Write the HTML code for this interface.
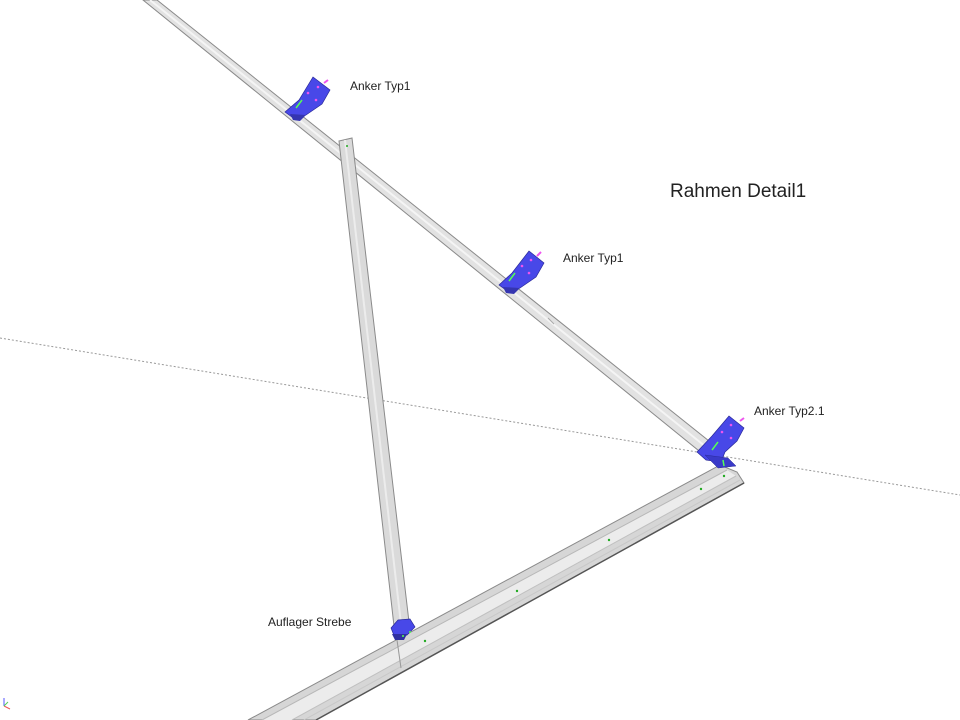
<!DOCTYPE html>
<html><head><meta charset="utf-8"><style>
html,body{margin:0;padding:0;background:#fff;width:960px;height:720px;overflow:hidden}
svg{display:block}
text{font-family:"Liberation Sans",sans-serif;fill:#222}
</style></head><body>
<svg width="960" height="720" viewBox="0 0 960 720">
<line x1="0" y1="338" x2="960" y2="495" stroke="#999" stroke-width="1" stroke-dasharray="2,2"/>
<!-- top diagonal beam -->
<polygon points="143,0 157,0 724,453 709,459" fill="#e2e2e2" stroke="#8a8a8a" stroke-width="1"/>
<line x1="150" y1="0" x2="716" y2="455" stroke="#f4f4f4" stroke-width="2"/>
<line x1="548" y1="318" x2="554" y2="324" stroke="#aaa"/>
<!-- vertical strut -->
<polygon points="339,141 352,138 409,622 394,626" fill="#dadada" stroke="#8a8a8a" stroke-width="1"/>
<line x1="345" y1="140" x2="401" y2="624" stroke="#ececec" stroke-width="2"/>
<circle cx="347" cy="146" r="1" fill="#2a2"/>
<!-- bottom beam -->
<polygon points="248,720 316,720 744,483 737,472 720,465" fill="#d6d6d6" stroke="#8a8a8a" stroke-width="1"/>
<polygon points="262,720 292,720 736,476 727,470" fill="#ececec" stroke="none"/>
<line x1="262" y1="720" x2="727" y2="470" stroke="#b8b8b8"/>
<line x1="292" y1="720" x2="736" y2="476" stroke="#c0c0c0"/>
<line x1="304" y1="720" x2="740" y2="480" stroke="#c8c8c8"/>
<line x1="316" y1="720" x2="744" y2="483" stroke="#555" stroke-width="1.5"/>
<line x1="397" y1="640" x2="401" y2="668" stroke="#999"/>
<circle cx="425" cy="641" r="1.2" fill="#2a2"/>
<circle cx="517" cy="591" r="1.2" fill="#2a2"/>
<circle cx="609" cy="540" r="1.2" fill="#2a2"/>
<circle cx="701" cy="489" r="1.2" fill="#2a2"/>
<circle cx="724" cy="476" r="1.2" fill="#2a2"/>
<!-- anchor 1 -->
<g>
<polygon points="313,77 330,90 322,104 306,115 296,120 285,112 299,100" fill="#4848e8" stroke="#2a2a9a" stroke-width="0.7"/>
<polygon points="290,114 306,115 300,121 293,120" fill="#3535b0"/>
<line x1="296" y1="108" x2="302" y2="100" stroke="#5f5" stroke-width="1.5"/>
<line x1="324" y1="83" x2="328" y2="80" stroke="#e5e" stroke-width="2"/>
<circle cx="318" cy="87" r="1.3" fill="#e5e"/><circle cx="316" cy="100" r="1.3" fill="#e5e"/><circle cx="308" cy="93" r="1.3" fill="#e5e"/>
</g>
<!-- anchor 2 -->
<g>
<polygon points="529,251 544,263 536,277 520,288 510,293 499,285 512,273" fill="#4848e8" stroke="#2a2a9a" stroke-width="0.7"/>
<polygon points="503,287 520,288 514,294 506,293" fill="#3535b0"/>
<line x1="509" y1="281" x2="515" y2="273" stroke="#5f5" stroke-width="1.5"/>
<line x1="537" y1="256" x2="541" y2="252" stroke="#e5e" stroke-width="2"/>
<circle cx="531" cy="260" r="1.3" fill="#e5e"/><circle cx="529" cy="273" r="1.3" fill="#e5e"/><circle cx="522" cy="266" r="1.3" fill="#e5e"/>
</g>
<!-- anchor 3 -->
<g>
<polygon points="729,416 744,428 737,441 725,452 721,462 706,460 697,452 712,436" fill="#4848e8" stroke="#2a2a9a" stroke-width="0.7"/>
<polygon points="705,455 728,458 736,466 718,468" fill="#3a3ac8" stroke="#2a2a9a" stroke-width="0.5"/>
<line x1="712" y1="450" x2="718" y2="442" stroke="#5f5" stroke-width="1.5"/>
<line x1="723" y1="460" x2="724" y2="466" stroke="#5f5" stroke-width="1.5"/>
<line x1="740" y1="421" x2="744" y2="418" stroke="#e5e" stroke-width="2"/>
<circle cx="731" cy="425" r="1.3" fill="#e5e"/><circle cx="731" cy="438" r="1.3" fill="#e5e"/><circle cx="722" cy="432" r="1.3" fill="#e5e"/>
</g>
<!-- strut support -->
<g>
<polygon points="391,628 398,620 410,619 415,627 407,635 395,638" fill="#4848e8" stroke="#2a2a9a" stroke-width="0.7"/>
<polygon points="392,634 407,634 404,640 395,640" fill="#3030a0"/>
<circle cx="403" cy="636" r="1" fill="#5f5"/><circle cx="410" cy="632" r="1" fill="#5f5"/>
</g>
<text x="350" y="90" font-size="12">Anker Typ1</text>
<text x="563" y="262" font-size="12">Anker Typ1</text>
<text x="754" y="415" font-size="12">Anker Typ2.1</text>
<text x="268" y="626" font-size="12">Auflager Strebe</text>
<text x="670" y="197" font-size="19">Rahmen Detail1</text>
<line x1="4" y1="706" x2="4" y2="698" stroke="#55f" stroke-width="1"/>
<line x1="4" y1="706" x2="10" y2="709" stroke="#e55" stroke-width="1"/>
<line x1="4" y1="706" x2="8" y2="702" stroke="#5c5" stroke-width="1"/>
</svg>
</body></html>
